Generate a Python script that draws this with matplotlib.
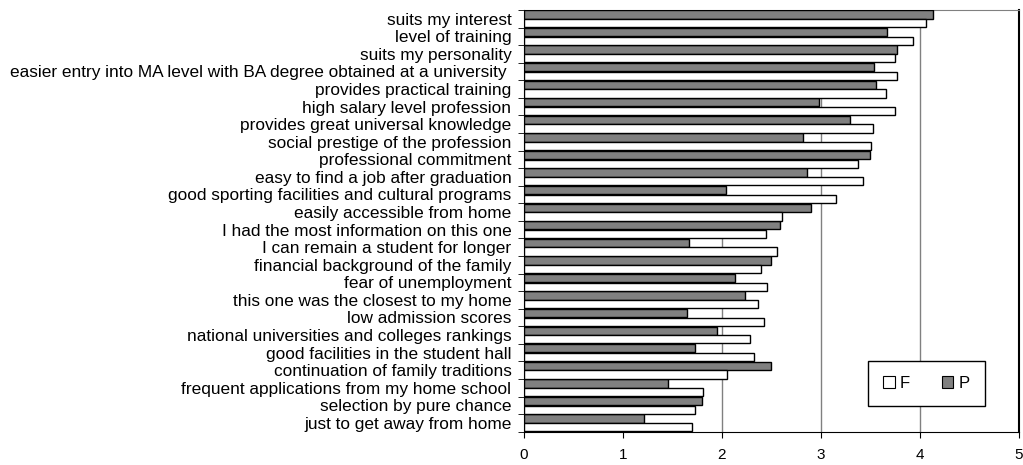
import matplotlib.pyplot as plt
from matplotlib.patches import Rectangle
import numpy as np

plt.rcParams['font.family'] = ['Liberation Sans', 'DejaVu Sans']

categories = [
    "suits my interest",
    "level of training",
    "suits my personality",
    "easier entry into MA level with BA degree obtained at a university ",
    "provides practical training",
    "high salary level profession",
    "provides great universal knowledge",
    "social prestige of the profession",
    "professional commitment",
    "easy to find a job after graduation",
    "good sporting facilities and cultural programs",
    "easily accessible from home",
    "I had the most information on this one",
    "I can remain a student for longer",
    "financial background of the family",
    "fear of unemployment",
    "this one was the closest to my home",
    "low admission scores",
    "national universities and colleges rankings",
    "good facilities in the student hall",
    "continuation of family traditions",
    "frequent applications from my home school",
    "selection by pure chance",
    "just to get away from home",
]

p_values = [4.13, 3.67, 3.77, 3.54, 3.56, 2.98, 3.29, 2.82, 3.49, 2.86, 2.04, 2.90,
            2.59, 1.67, 2.49, 2.13, 2.23, 1.65, 1.95, 1.73, 2.50, 1.45, 1.80, 1.21]
f_values = [4.06, 3.93, 3.75, 3.77, 3.66, 3.75, 3.53, 3.50, 3.37, 3.42, 3.15, 2.61,
            2.44, 2.56, 2.39, 2.45, 2.36, 2.42, 2.28, 2.32, 2.05, 1.81, 1.73, 1.70]

fig = plt.figure(figsize=(10.23, 4.65), dpi=100)
ax = fig.add_axes([0.5122, 0.0716, 0.4839, 0.9069])

y = np.arange(len(categories))
h = 0.47
ax.barh(y - 0.245, p_values, height=h, color='#808080', edgecolor='black', linewidth=1, zorder=3)
ax.barh(y + 0.245, f_values, height=h, color='white', edgecolor='black', linewidth=1, zorder=3)

ax.set_xlim(0, 5)
ax.set_ylim(len(categories) - 0.5, -0.5)
ax.set_xticks(range(6))
ax.tick_params(axis='x', direction='out', length=4, labelsize=11, pad=8)

ax.set_yticks(y)
ax.set_yticklabels(categories, fontsize=12.4)
ax.set_yticks(np.arange(len(categories) + 1) - 0.5, minor=True)
ax.tick_params(axis='y', which='major', length=0, pad=9)
ax.tick_params(axis='y', which='minor', length=4, direction='out')

for xv in [1, 2, 3, 4]:
    ax.axvline(xv, color='#808080', linewidth=1, zorder=1)

ax.spines['top'].set_color('#808080')
ax.spines['right'].set_color('black')
ax.spines['right'].set_linewidth(1.5)

handles = [Rectangle((0, 0), 1, 1, facecolor='white', edgecolor='black', linewidth=0.8),
           Rectangle((0, 0), 1, 1, facecolor='#808080', edgecolor='black', linewidth=0.8)]
leg = ax.legend(handles, ['F', 'P'], ncol=2, loc='center', bbox_to_anchor=(0.813, 0.114),
                fancybox=False, framealpha=1, edgecolor='black', fontsize=12,
                handlelength=0.7, handleheight=0.7, handletextpad=0.3, columnspacing=1.9,
                borderpad=0.9, borderaxespad=0)
leg.get_frame().set_linewidth(1)

fig.savefig('out.png', dpi=100)
